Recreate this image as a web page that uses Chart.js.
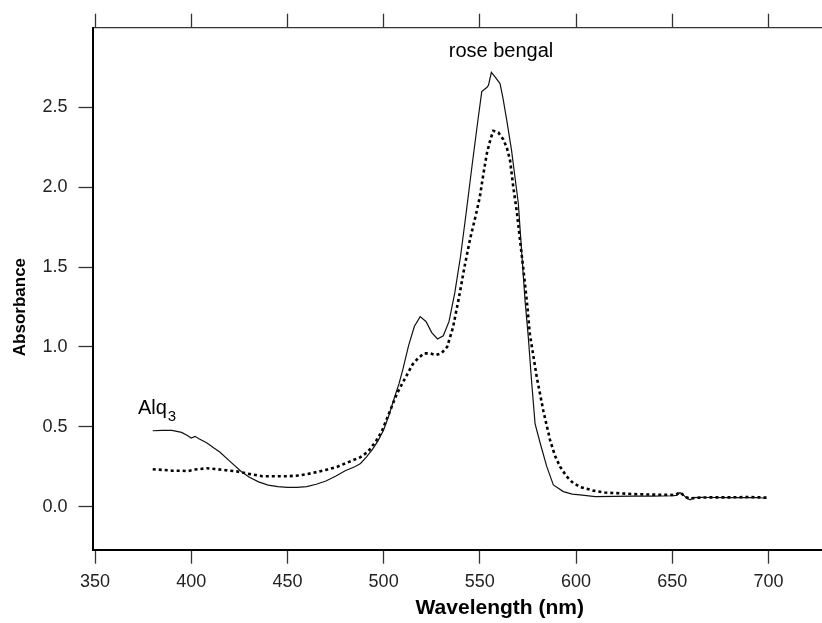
<!DOCTYPE html>
<html><head><meta charset="utf-8">
<script src="https://cdn.jsdelivr.net/npm/chart.js@4"></script>
<style>
html,body{margin:0;padding:0;background:#fff;overflow:hidden;width:822px;height:623px}
canvas{display:block}
</style></head>
<body><canvas id="c" width="907" height="623"></canvas>
<script>
// ---- data ----
const solidWavelength = [380,385,390,395,398,400,402,404,408,412,415,420,426,430,435,440,445,450,455,460,465,470,475,480,485,488,491,494,497,500,503,505,508,510,513,516,519,522,525,528,531,534,537,540,543,546,549,551,553.6,554.5,556,558,560.5,562,564,566.5,568.3,570,571.2,573.5,575.2,577,578.7,581.3,584.8,588.2,593.4,598,602,610,620,630,640,650,652.3,654,656,657.5,659.3,661,665,670,680,690,694,697,699];
const solidAbsorbance = [0.475,0.478,0.478,0.465,0.445,0.43,0.44,0.425,0.40,0.365,0.34,0.285,0.22,0.185,0.155,0.135,0.125,0.12,0.12,0.125,0.14,0.16,0.19,0.225,0.25,0.27,0.31,0.355,0.41,0.48,0.58,0.66,0.77,0.86,1.01,1.13,1.19,1.16,1.09,1.05,1.07,1.16,1.34,1.57,1.85,2.14,2.42,2.6,2.625,2.64,2.72,2.69,2.65,2.56,2.42,2.23,2.06,1.9,1.69,1.29,1.06,0.77,0.52,0.40,0.25,0.136,0.094,0.078,0.073,0.063,0.064,0.065,0.066,0.068,0.07,0.088,0.07,0.052,0.043,0.056,0.058,0.057,0.056,0.056,0.057,0.054,0.052];
const dottedWavelength = [380,385,390,395,398,402,408,413,418,424,430,437,443,450,456,463,470,476,482,488,492,496,499,502,505,507,511,515,518,521,524,527,530,533,536,539,542,545,548,550,551.8,553.6,555.5,557,559.6,562.2,564,565.7,567.4,569.2,570.5,572.5,574.4,576,578,579.6,583,586.5,589,591.7,595,598.6,603,609,615,623,630,640,650,652,654,657,659,662,670,680,690,695,699];
const dottedAbsorbance = [0.234,0.23,0.225,0.225,0.222,0.232,0.24,0.235,0.228,0.22,0.205,0.19,0.19,0.19,0.195,0.21,0.23,0.25,0.28,0.31,0.345,0.41,0.47,0.56,0.65,0.71,0.80,0.89,0.93,0.96,0.96,0.95,0.96,1.0,1.12,1.3,1.5,1.68,1.83,1.94,2.08,2.21,2.3,2.354,2.344,2.30,2.25,2.17,2.0,1.85,1.71,1.5,1.29,1.08,0.93,0.81,0.60,0.417,0.32,0.25,0.19,0.146,0.12,0.1,0.088,0.083,0.078,0.075,0.073,0.075,0.09,0.06,0.05,0.055,0.058,0.058,0.06,0.058,0.056];
const xTickValues = [350,400,450,500,550,600,650,700];
const yTickValues = [0,0.5,1.0,1.5,2.0,2.5];
const xAxisTitle = 'Wavelength (nm)';
const yAxisTitle = 'Absorbance';
const yTitleCenter = 1.25;
const roseLabel = {text:'rose bengal', x:561, y:2.85};
const alqLabel = {text:'Alq', sub:'3', x:372.3, y:0.58};

// ---- chart ----
const toPoints = (xs, ys) => xs.map((x, i) => ({x: x, y: ys[i]}));
const X_MIN = 348.7, X_MAX = 772, Y_MIN = -0.27, Y_MAX = 3.0;
const FAMILY = '"Liberation Sans", Arial, sans-serif';
const tickFont = {family: FAMILY, size: 18};
const setTicks = vals => (axis) => { axis.ticks = vals.map(v => ({value: v})); };

const labelPlugin = {
  id: 'labels',
  afterDraw(chart) {
    const {ctx, scales: {x, y}} = chart;
    ctx.save();
    ctx.fillStyle = '#000';
    ctx.font = '20px ' + FAMILY;
    ctx.textAlign = 'center';
    ctx.textBaseline = 'middle';
    ctx.fillText(roseLabel.text, x.getPixelForValue(roseLabel.x), y.getPixelForValue(roseLabel.y));
    ctx.textAlign = 'left';
    ctx.textBaseline = 'alphabetic';
    const ax = x.getPixelForValue(alqLabel.x), ay = y.getPixelForValue(alqLabel.y);
    ctx.font = '20px ' + FAMILY;
    ctx.fillText(alqLabel.text, ax, ay);
    const w = ctx.measureText(alqLabel.text).width;
    ctx.font = '15px ' + FAMILY;
    ctx.fillText(alqLabel.sub, ax + w + 1, ay + 7);
    // y-axis title
    ctx.font = 'bold 17px ' + FAMILY;
    ctx.textAlign = 'center';
    ctx.textBaseline = 'middle';
    ctx.translate(20, y.getPixelForValue(yTitleCenter));
    ctx.rotate(-Math.PI / 2);
    ctx.fillText(yAxisTitle, 0, 0);
    ctx.restore();
  }
};

new Chart(document.getElementById('c'), {
  type: 'line',
  data: {
    datasets: [
      {label: 'solid', data: toPoints(solidWavelength, solidAbsorbance), borderColor: '#111', borderWidth: 1.2, pointRadius: 0, tension: 0, fill: false},
      {label: 'dotted', data: toPoints(dottedWavelength, dottedAbsorbance), borderColor: '#000', borderWidth: 2.6, borderDash: [3, 3], pointRadius: 0, tension: 0, fill: false}
    ]
  },
  options: {
    responsive: false,
    animation: false,
    layout: {padding: 0},
    plugins: {legend: {display: false}, tooltip: {enabled: false}},
    scales: {
      x: {
        type: 'linear', position: 'bottom', min: X_MIN, max: X_MAX,
        afterBuildTicks: setTicks(xTickValues),
        afterFit: s => { s.height = 73.3; },
        grid: {display: true, drawOnChartArea: false, drawTicks: true, tickLength: 14, tickColor: '#333', tickWidth: 1.3},
        border: {display: true, color: '#000', width: 2},
        ticks: {color: '#222', font: tickFont, padding: 8, maxRotation: 0, autoSkip: false, callback: v => String(v)},
        title: {display: true, text: xAxisTitle, color: '#000', font: {family: FAMILY, size: 21, weight: 'bold'}, padding: {top: 0, bottom: 2}}
      },
      xTop: {
        type: 'linear', position: 'top', min: X_MIN, max: X_MAX,
        afterBuildTicks: setTicks(xTickValues),
        afterFit: s => { s.height = 27.7; },
        grid: {display: true, drawOnChartArea: false, drawTicks: true, tickLength: 14, tickColor: '#333', tickWidth: 1.3},
        border: {display: true, color: '#333', width: 1.3},
        ticks: {display: false}
      },
      y: {
        type: 'linear', position: 'left', min: Y_MIN, max: Y_MAX,
        afterBuildTicks: setTicks(yTickValues),
        afterFit: s => { s.width = 92.5; },
        grid: {display: true, drawOnChartArea: false, drawTicks: true, tickLength: 14, tickColor: '#333', tickWidth: 1.3},
        border: {display: true, color: '#000', width: 2},
        ticks: {color: '#222', font: tickFont, padding: 11, callback: v => Number(v).toFixed(1)},
        title: {display: false}
      }
    }
  },
  plugins: [labelPlugin]
});
</script>
</body></html>
